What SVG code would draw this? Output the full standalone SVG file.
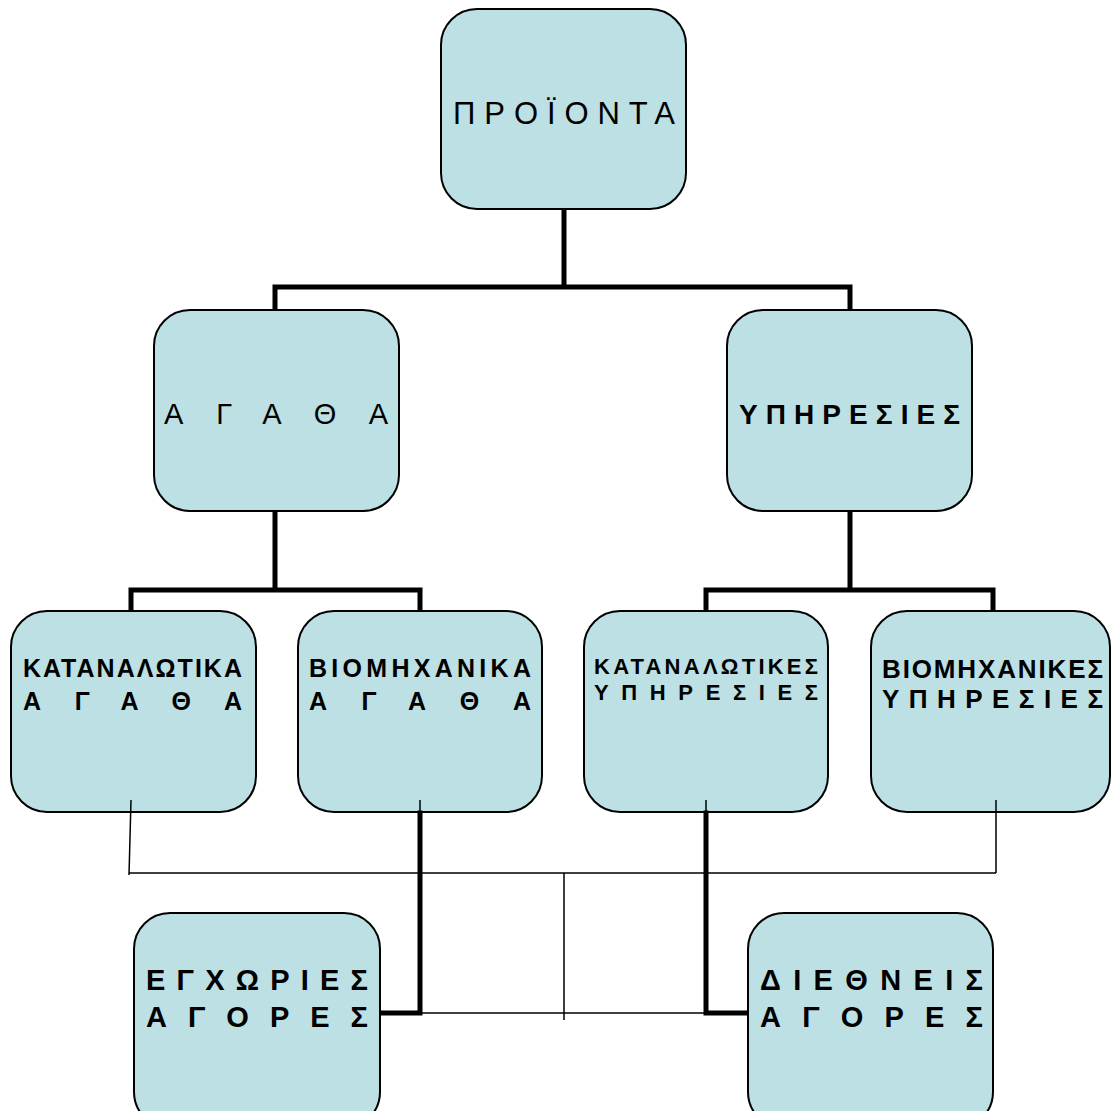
<svg xmlns="http://www.w3.org/2000/svg" width="1111" height="1111" viewBox="0 0 1111 1111">
<style>
.n{fill:#bce0e3;stroke:#000;stroke-width:2}
.t{font-family:"Liberation Sans",Arial,sans-serif;fill:#000}
.b{font-weight:bold}
.k{stroke:#000;stroke-width:5;fill:none;stroke-linecap:square}
.h{stroke:#000;stroke-width:1.5;fill:none}
</style>
<rect width="1111" height="1111" fill="#fff"/>
<g id="connectors-top">
<path class="k" d="M564 209V287M275 287H850M275 287V310M850 287V310"/>
<path class="k" d="M275 511V590M131 590H420M131 590V611M420 590V611"/>
<path class="k" d="M850 511V590M706 590H993M706 590V611M993 590V611"/>
</g>
<g id="n-proionta"><rect class="n" x="441" y="9" width="245" height="200" rx="36"/>
<text class="t" x="453" y="124" font-size="31" textLength="222" lengthAdjust="spacing">ΠΡΟΪΟΝΤΑ</text></g>
<g id="n-agatha"><rect class="n" x="154" y="310" width="245" height="201" rx="36"/>
<text class="t" x="164" y="424" font-size="29" textLength="224" lengthAdjust="spacing">ΑΓΑΘΑ</text></g>
<g id="n-ypiresies"><rect class="n" x="727" y="310" width="245" height="201" rx="36"/>
<text class="t b" x="739" y="424" font-size="28" textLength="221" lengthAdjust="spacing">ΥΠΗΡΕΣΙΕΣ</text></g>
<g id="n-katanalotika"><rect class="n" x="11" y="611" width="245" height="201" rx="36"/>
<text class="t b" x="23" y="677" font-size="25" textLength="219" lengthAdjust="spacing">ΚΑΤΑΝΑΛΩΤΙΚΑ</text>
<text class="t b" x="23" y="710" font-size="25" textLength="219" lengthAdjust="spacing">ΑΓΑΘΑ</text></g>
<g id="n-viomichanika"><rect class="n" x="298" y="611" width="244" height="201" rx="36"/>
<text class="t b" x="309" y="677" font-size="25" textLength="222" lengthAdjust="spacing">ΒΙΟΜΗΧΑΝΙΚΑ</text>
<text class="t b" x="309" y="710" font-size="25" textLength="222" lengthAdjust="spacing">ΑΓΑΘΑ</text></g>
<g id="n-katanalotikes"><rect class="n" x="584" y="611" width="244" height="201" rx="36"/>
<text class="t b" x="594" y="674" font-size="22" textLength="224" lengthAdjust="spacing">ΚΑΤΑΝΑΛΩΤΙΚΕΣ</text>
<text class="t b" x="594" y="700" font-size="22" textLength="224" lengthAdjust="spacing">ΥΠΗΡΕΣΙΕΣ</text></g>
<g id="n-viomichanikes"><rect class="n" x="871" y="611" width="239" height="201" rx="36"/>
<text class="t b" x="882" y="678" font-size="26" textLength="221" lengthAdjust="spacing">ΒΙΟΜΗΧΑΝΙΚΕΣ</text>
<text class="t b" x="882" y="708" font-size="26" textLength="221" lengthAdjust="spacing">ΥΠΗΡΕΣΙΕΣ</text></g>
<g id="n-egchories"><rect class="n" x="134" y="913" width="246" height="215" rx="36"/>
<text class="t b" x="146" y="990" font-size="29" textLength="222" lengthAdjust="spacing">ΕΓΧΩΡΙΕΣ</text>
<text class="t b" x="146" y="1027" font-size="29" textLength="222" lengthAdjust="spacing">ΑΓΟΡΕΣ</text></g>
<g id="n-diethneis"><rect class="n" x="748" y="913" width="245" height="215" rx="36"/>
<text class="t b" x="760" y="990" font-size="29" textLength="223" lengthAdjust="spacing">ΔΙΕΘΝΕΙΣ</text>
<text class="t b" x="760" y="1027" font-size="29" textLength="223" lengthAdjust="spacing">ΑΓΟΡΕΣ</text></g>
<g id="connectors-bottom">
<path class="h" d="M131 800L129 875M129 873H996M996 800V873M564 873V1020M420 1013H706M420 800V813M706 800V813"/>
<path class="k" d="M420 813V1013H382M706 813V1013H746"/>
</g>
</svg>
